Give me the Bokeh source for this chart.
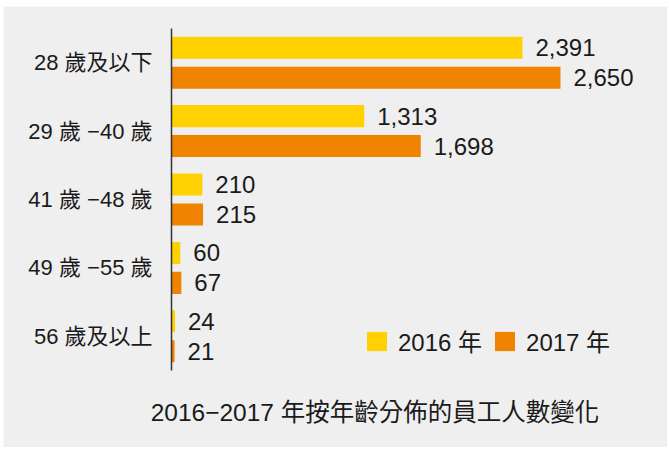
from bokeh.plotting import figure
from bokeh.models import ColumnDataSource, Range1d, Legend, LegendItem
from bokeh.core.properties import value
from bokeh.embed import file_html
from bokeh.resources import INLINE

categories = ["28 歲及以下", "29 歲 −40 歲", "41 歲 −48 歲", "49 歲 −55 歲", "56 歲及以上"]
values_2016 = [2391, 1313, 210, 60, 24]
values_2017 = [2650, 1698, 215, 67, 21]
series_names = ["2016 年", "2017 年"]
title_text = "2016−2017 年按年齡分佈的員工人數變化"

FONT = "Liberation Sans, Noto Sans CJK TC"
YELLOW = "#FFD100"
ORANGE = "#F08300"
BG = "#EFEFEF"
TXT = "#1A1A1A"

pos = [-i for i in range(len(categories))]
off = 0.219
bh = 0.322

src = ColumnDataSource(dict(
    pos=pos,
    cat=categories,
    zero=[0] * len(categories),
    y16=[y + off for y in pos],
    y17=[y - off for y in pos],
    v16=values_2016,
    v17=values_2017,
    l16=[f"{v:,}" for v in values_2016],
    l17=[f"{v:,}" for v in values_2017],
))

top = 0.5
bottom = 0.5 - len(categories)

p = figure(width=664, height=441, margin=(6, 2, 3, 3),
           y_range=Range1d(-5.626, 0.8216),
           x_range=Range1d(-1144.5, 3379),
           output_backend="svg", toolbar_location=None,
           min_border=0)

p.background_fill_color = BG
p.border_fill_color = BG
p.outline_line_color = None
p.xgrid.grid_line_color = None
p.ygrid.grid_line_color = None
p.xaxis.visible = False
p.yaxis.visible = False

r16 = p.hbar(y="y16", left=0, right="v16", height=bh, source=src,
             fill_color=YELLOW, line_color=None)
r17 = p.hbar(y="y17", left=0, right="v17", height=bh, source=src,
             fill_color=ORANGE, line_color=None)

p.text(x="v16", y="y16", text="l16", source=src,
       x_offset=13, text_baseline="middle", text_align="left",
       text_font=value(FONT), text_font_size="24px", text_color=TXT)
p.text(x="v17", y="y17", text="l17", source=src,
       x_offset=13, text_baseline="middle", text_align="left",
       text_font=value(FONT), text_font_size="24px", text_color=TXT)

# category labels
p.text(x="zero", y="pos", text="cat", source=src,
       x_offset=-19, text_baseline="middle", text_align="right",
       text_font=value(FONT), text_font_size="22px", text_color=TXT)

# vertical axis line over the category rows
p.segment(x0=[0], y0=[top], x1=[0], y1=[bottom], line_color="#333333", line_width=1.5)

legend = Legend(items=[LegendItem(label=series_names[0], renderers=[r16]),
                       LegendItem(label=series_names[1], renderers=[r17])],
                orientation="horizontal", location=(361, 89),
                glyph_width=25, glyph_height=24, label_standoff=9, spacing=10,
                padding=0, margin=0, border_line_color=None, background_fill_alpha=0,
                label_text_font=FONT, label_text_font_size="24px", label_text_color=TXT)
p.add_layout(legend)

# chart caption under the plot
title_x = 1386
title_y = -5.114
p.text(x=[title_x], y=[title_y], text=[title_text], text_align="center",
       text_baseline="middle", text_font=value(FONT), text_font_size="24.5px",
       text_color=TXT)

open("out.html", "w").write(file_html(p, INLINE))
